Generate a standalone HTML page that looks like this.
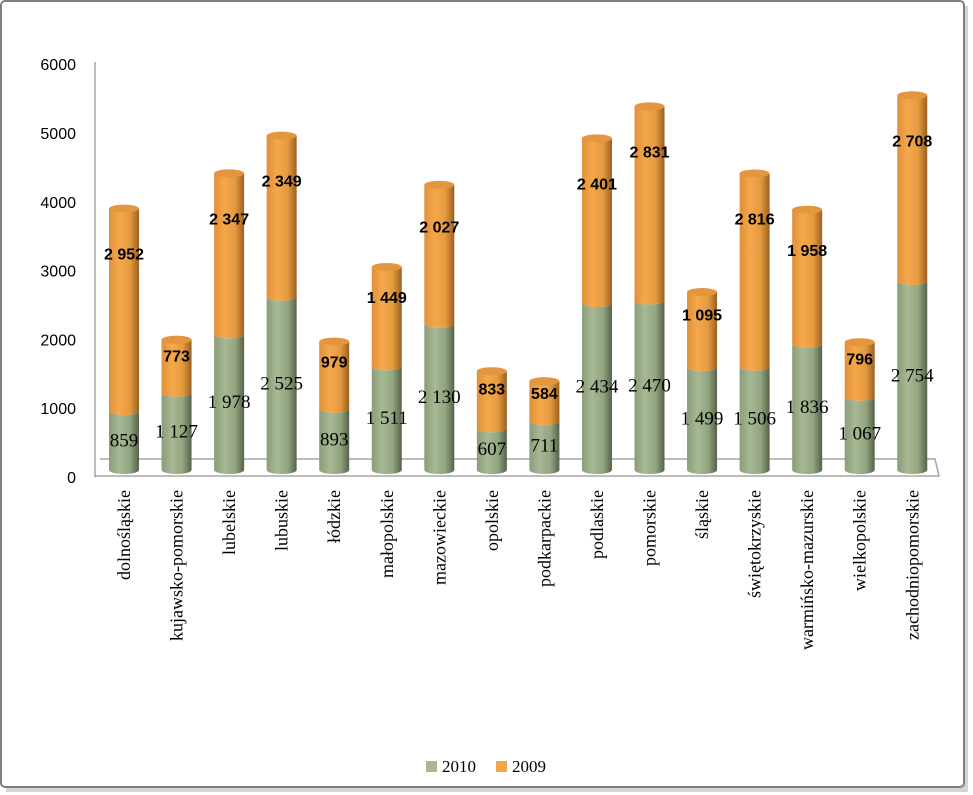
<!DOCTYPE html>
<html><head><meta charset="utf-8"><style>
body{margin:0;background:#fff;}
svg{display:block;font-family:"Liberation Sans",sans-serif;}
.serif{font-family:"Liberation Serif",serif;}
</style></head><body>
<svg id="chart" width="973" height="795" viewBox="0 0 973 795">
<defs>
<linearGradient id="gGreen" x1="0" x2="1" y1="0" y2="0">
<stop offset="0" stop-color="#8a9d78"/><stop offset="0.35" stop-color="#a7b894"/><stop offset="0.7" stop-color="#93a680"/><stop offset="1" stop-color="#55624a"/></linearGradient>
<linearGradient id="gOrange" x1="0" x2="1" y1="0" y2="0">
<stop offset="0" stop-color="#e0903a"/><stop offset="0.35" stop-color="#f5a84a"/><stop offset="0.7" stop-color="#e69a40"/><stop offset="1" stop-color="#9a6020"/></linearGradient>
</defs>
<rect x="6" y="6" width="962" height="786" fill="#aaa" opacity="0.5"/>
<rect x="1" y="1" width="963" height="786" rx="4" fill="#fff" stroke="#7f7f7f" stroke-width="2"/>
<g id="axes"></g>
<g id="bars"></g>
<g id="labels"></g>
<g>
<rect x="426" y="761" width="11" height="11" fill="#a9b996"/>
<text x="442" y="772" class="serif" font-size="17">2010</text>
<rect x="496" y="761" width="11" height="11" fill="#f3a54a"/>
<text x="512" y="772" class="serif" font-size="17">2009</text>
</g>
</svg>
<script>
const categories=["dolnośląskie","kujawsko-pomorskie","lubelskie","lubuskie","łódzkie","małopolskie","mazowieckie","opolskie","podkarpackie","podlaskie","pomorskie","śląskie","świętokrzyskie","warmińsko-mazurskie","wielkopolskie","zachodniopomorskie"];
const series2010=[859,1127,1978,2525,893,1511,2130,607,711,2434,2470,1499,1506,1836,1067,2754];
const series2009=[2952,773,2347,2349,979,1449,2027,833,584,2401,2831,1095,2816,1958,796,2708];
const yTicks=[0,1000,2000,3000,4000,5000,6000];
const labels2010=["859","1 127","1 978","2 525","893","1 511","2 130","607","711","2 434","2 470","1 499","1 506","1 836","1 067","2 754"];
const labels2009=["2 952","773","2 347","2 349","979","1 449","2 027","833","584","2 401","2 831","1 095","2 816","1 958","796","2 708"];

const NS="http://www.w3.org/2000/svg";
function y(v){return 470-v*0.0686;}
function tickY(v){return 477-v*0.0688;}
function x(i){return 124+i*52.55;}
function mk(tag,attrs,parent){const e=document.createElementNS(NS,tag);for(const k in attrs)e.setAttribute(k,attrs[k]);parent.appendChild(e);return e;}
const axes=document.getElementById('axes'),bars=document.getElementById('bars'),labels=document.getElementById('labels');
// walls
let w=mk('path',{d:"M95,62 L95,477 M100,459 L935,459 L939,476 L97,476 L95,477",fill:"none",stroke:"#a6a6a6","stroke-width":"1.5"},axes);


yTicks.forEach(t=>{
 const tx=mk('text',{x:76,y:tickY(t)+6,"text-anchor":"end","font-size":"16",fill:"#000"},axes);
 
 
 tx.textContent=t;
});
const r=15,ry=4;
categories.forEach((c,i)=>{
 const cx=x(i),a=series2010[i],b=series2009[i];
 const y0=y(0),y1=y(a),y2=y(a+b);
 const g=mk('g',{},bars);
 
 
 const s1=mk('path',{d:`M${cx-r},${y1} L${cx-r},${y0} A${r},${ry} 0 0 0 ${cx+r},${y0} L${cx+r},${y1} A${r},${ry} 0 0 1 ${cx-r},${y1}Z`,fill:"url(#gGreen)"},g);
 
 
 const s2=mk('path',{d:`M${cx-r},${y2} L${cx-r},${y1} A${r},${ry} 0 0 0 ${cx+r},${y1} L${cx+r},${y2}Z`,fill:"url(#gOrange)"},g);
 
 
 const top=mk('ellipse',{cx:cx,cy:y2,rx:r,ry:ry,fill:"#e3963e"},g);
 
 
 const l1=mk('text',{x:cx,y:Math.min(y(a/2)+6,478),"text-anchor":"middle","font-size":"19",class:"serif",fill:"#000"},labels);
 
 
 l1.textContent=labels2010[i];
 const l2=mk('text',{x:cx,y:y2+Math.min(45,(y1-y2)*0.3)+6,"text-anchor":"middle","font-size":"16","font-weight":"bold",fill:"#000"},labels);
 
 
 l2.textContent=labels2009[i];
 const cl=mk('text',{x:cx+6,y:490,"text-anchor":"end","font-size":"18",class:"serif",fill:"#000",transform:`rotate(-90 ${cx+6} 490)`},labels);
 
 
 cl.textContent=c;
});
</script>
</body></html>
